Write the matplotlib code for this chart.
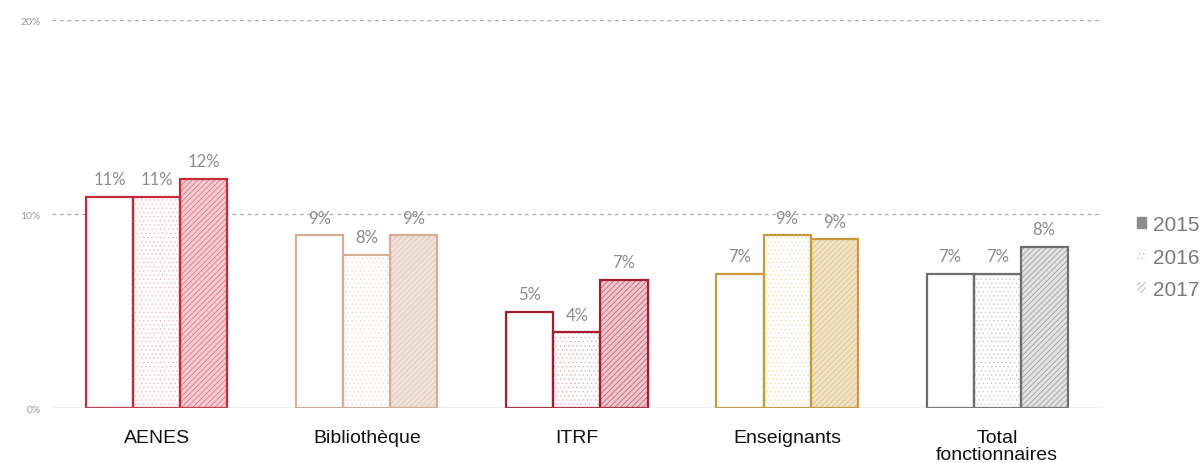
import numpy as np
import matplotlib.pyplot as plt
from matplotlib.patches import Patch

categories = ['AENES', 'Bibliothèque', 'ITRF', 'Enseignants', 'Total\nfonctionnaires']
years = ['2015', '2016', '2017']
v2015 = [10.9, 8.9, 4.95, 6.9, 6.9]
v2016 = [10.9, 7.9, 3.9, 8.9, 6.9]
v2017 = [11.8, 8.9, 6.6, 8.7, 8.3]
labels2015 = ['11%', '9%', '5%', '7%', '7%']
labels2016 = ['11%', '8%', '4%', '9%', '7%']
labels2017 = ['12%', '9%', '7%', '9%', '8%']

edge_colors = ['#c8283c', '#d6ae94', '#a81c30', '#c9993a', '#6e6e6e']
dot_colors = ['#f0b8c0', '#ead8cc', '#e8b0b8', '#ecdcb0', '#c8c8c8']
tint_colors = ['#f6ccd2', '#f0e2d8', '#eec6cc', '#f0e4c4', '#e2e2e2']
hatch_colors = ['#dc6676', '#dcc4b4', '#c45868', '#d8bc80', '#989898']

plt.rcParams['hatch.linewidth'] = 0.5

fig = plt.figure(figsize=(12.02, 4.64), dpi=100)
ax = fig.add_axes([0.043, 0.1185, 0.874, 0.836])

x = np.arange(len(categories))
w = 0.224
series = [v2015, v2016, v2017]
lab = [labels2015, labels2016, labels2017]

for i in range(len(categories)):
    for j in range(3):
        xpos = x[i] + (j - 1) * w
        val = series[j][i]
        if j == 1:
            ax.bar(xpos, val, w, color='white', edgecolor=dot_colors[i], hatch='....', linewidth=0, zorder=2)
        elif j == 2:
            ax.bar(xpos, val, w, color=tint_colors[i], edgecolor=hatch_colors[i], hatch='//////', linewidth=0, zorder=2)
        else:
            ax.bar(xpos, val, w, color='white', linewidth=0, zorder=2)
        ax.bar(xpos, val, w, color='none', edgecolor=edge_colors[i], linewidth=1.6, zorder=3)
        ax.text(xpos, val + 0.5, lab[j][i], ha='center', va='bottom', fontsize=12,
                color='#8c8c8c', family='Lato')

ax.set_xlim(-0.5, 4.5)
ax.set_ylim(0, 20)
ax.set_yticks([0, 10, 20])
ax.set_yticklabels(['0%', '10%', '20%'], fontsize=7.5, color='#999999', family='Lato')
ax.tick_params(axis='y', length=0, pad=8)
ax.tick_params(axis='x', length=0, pad=15)
ax.set_xticks(x)
ax.set_xticklabels(categories, fontsize=14, color='#111111', linespacing=1.05, va='top',
                   family='Liberation Sans')
for y in [10, 20]:
    ax.axhline(y, color='#aaaaaa', linestyle=(0, (3, 3)), linewidth=0.9, zorder=1)
ax.axhline(0, color='#aaaaaa', linewidth=1.0, zorder=4)
for s in ax.spines.values():
    s.set_visible(False)

handles = [
    Patch(facecolor='#8c8c8c', edgecolor='#8c8c8c', label='2015'),
    Patch(facecolor='white', edgecolor='#bdbdbd', hatch='....', linewidth=0, label='2016'),
    Patch(facecolor='white', edgecolor='#a0a0a0', hatch='//////', linewidth=0, label='2017'),
]
leg = fig.legend(handles=handles, loc='center left', bbox_to_anchor=(0.946, 0.4435), frameon=False,
                 prop={'family': 'Liberation Sans', 'size': 15}, handlelength=0.45, handleheight=0.45,
                 handletextpad=0.3, labelspacing=0.65, borderaxespad=0, borderpad=0)
for t in leg.get_texts():
    t.set_color('#7a7a7a')

fig.savefig('out.png', dpi=100)
